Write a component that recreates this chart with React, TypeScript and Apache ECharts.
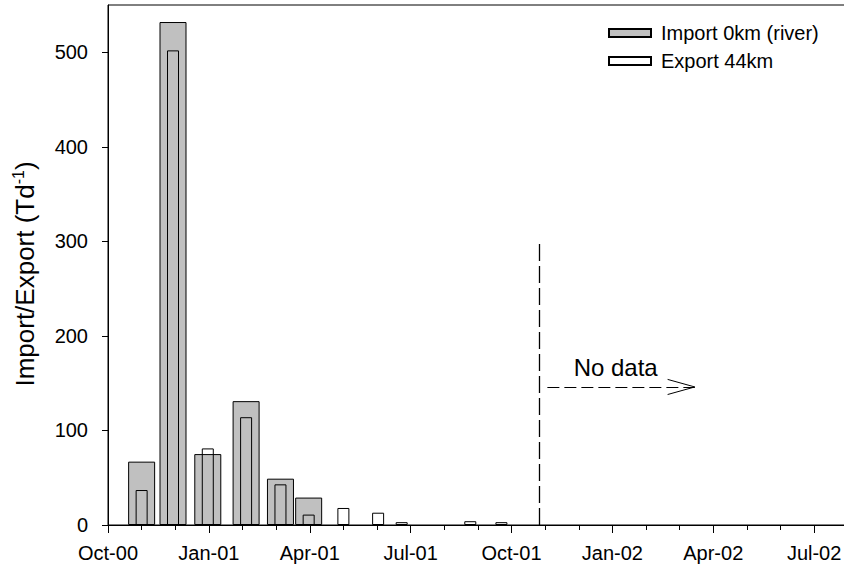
import React, { useEffect, useRef } from "react";
import * as echarts from "echarts";

// ---- data ----
const sampleDates = [
  "2000-11-01", "2000-11-29", "2000-12-31", "2001-02-04", "2001-03-05", "2001-03-31",
  "2001-05-01", "2001-06-02", "2001-06-23", "2001-08-25", "2001-09-22",
];
const importValues: (number | null)[] = [67, 532, 75, 131, 49, 29, null, null, null, null, null];
const exportValues = [37, 502, 81, 114, 43, 11, 18, 13, 3, 4, 3];
const xTickLabels = ["Oct-00", "Jan-01", "Apr-01", "Jul-01", "Oct-01", "Jan-02", "Apr-02", "Jul-02"];
const yTickValues = [0, 100, 200, 300, 400, 500];
const seriesNames = ["Import 0km (river)", "Export 44km"];

// annotation ("No data")
const noDataDate = "2001-10-27";
const noDataTop = 300;
const arrowStartDate = "2001-11-03";
const arrowEndDate = "2002-03-15";
const arrowHeadBackDate = "2002-02-19";
const arrowValue = 146;
const arrowHeadSpread = 8;
const noDataLabelDate = "2001-11-26";
const noDataLabelValue = 167;

const FONT = "'Liberation Sans', Arial, Helvetica, sans-serif";

// months since Oct 2000 (fractional)
function monthPos(d: string): number {
  const [y, m, dd] = d.split("-").map(Number);
  const idx = (y - 2000) * 12 + (m - 10);
  const dim = new Date(y, m, 0).getDate();
  return idx + (dd - 1) / dim;
}

export default function App() {
  const ref = useRef<HTMLDivElement>(null);
  useEffect(() => {
    if (!ref.current) return;
    const chart = echarts.init(ref.current, null, { renderer: "svg" });

    const importData = sampleDates
      .map((d, i) => (importValues[i] == null ? null : [monthPos(d), importValues[i]]))
      .filter((v) => v !== null);
    const exportData = sampleDates.map((d, i) => [monthPos(d), exportValues[i]]);

    const xv = monthPos(noDataDate);
    const a0 = monthPos(arrowStartDate);
    const a1 = monthPos(arrowEndDate);
    const ah = monthPos(arrowHeadBackDate);

    const xAxisBase = {
      type: "value",
      min: 0,
      max: 24,
      interval: 3,
      gridIndex: 0,
    };

    chart.setOption({
      animation: false,
      backgroundColor: "#fff",
      textStyle: { fontFamily: FONT },
      grid: {
        left: 108,
        top: 5,
        width: 807,
        height: 520,
        show: true,
        borderColor: "#000",
        borderWidth: 1,
        containLabel: false,
      },
      legend: {
        data: seriesNames,
        orient: "vertical",
        left: 603,
        top: 18,
        itemWidth: 42,
        itemHeight: 8,
        itemGap: 8,
        icon: "rect",
        selectedMode: false,
        textStyle: { fontSize: 20, color: "#000", fontFamily: FONT, lineHeight: 20, padding: [0, 0, 0, 5] },
      },
      xAxis: [
        {
          ...xAxisBase,
          axisLine: { show: true, lineStyle: { color: "#000", width: 1 } },
          axisTick: { show: true, length: 8, lineStyle: { color: "#000" } },
          minorTick: { show: true, splitNumber: 3, length: 5, lineStyle: { color: "#000" } },
          splitLine: { show: false },
          axisLabel: {
            fontSize: 20,
            color: "#000",
            fontFamily: FONT,
            margin: 18,
            formatter: (v: number) => xTickLabels[Math.round(v / 3)] ?? "",
          },
        },
        {
          ...xAxisBase,
          show: false,
        },
      ],
      yAxis: {
        type: "value",
        min: 0,
        max: 550,
        interval: 100,
        axisLine: { show: true, lineStyle: { color: "#000", width: 1 } },
        axisTick: { show: true, length: 6, lineStyle: { color: "#000" }, customValues: yTickValues },
        splitLine: { show: false },
        axisLabel: {
          fontSize: 20,
          color: "#000",
          fontFamily: FONT,
          margin: 20,
          customValues: yTickValues,
        },
      },
      graphic: [
        {
          type: "text",
          x: 25,
          y: 274,
          rotation: Math.PI / 2,
          style: {
            text: "Import/Export (Td{sup|-1})",
            fontSize: 26,
            fontFamily: FONT,
            fill: "#000",
            align: "center",
            verticalAlign: "middle",
            rich: {
              sup: { fontSize: 16, fontFamily: FONT, fill: "#000", padding: [0, 0, 13, 0] },
            },
          },
        },
      ],
      series: [
        {
          name: seriesNames[0],
          type: "bar",
          xAxisIndex: 0,
          barWidth: 27,
          data: importData,
          itemStyle: { color: "#c0c0c0", borderColor: "#000", borderWidth: 1 },
          z: 2,
        },
        {
          name: seriesNames[1],
          type: "bar",
          xAxisIndex: 1,
          barWidth: 12,
          data: exportData,
          itemStyle: { color: "rgba(255,255,255,0)", borderColor: "#000", borderWidth: 1 },
          z: 3,
          markLine: {
            silent: true,
            symbol: "none",
            label: { show: false },
            data: [
              [
                { coord: [xv, 0], lineStyle: { color: "#000", width: 1.3, type: [17, 5] } },
                { coord: [xv, noDataTop] },
              ],
              [
                { coord: [a0, arrowValue], lineStyle: { color: "#000", width: 1, type: [12, 5] } },
                { coord: [a1, arrowValue] },
              ],
              [
                { coord: [ah, arrowValue + arrowHeadSpread], lineStyle: { color: "#000", width: 1, type: "solid" } },
                { coord: [a1, arrowValue] },
              ],
              [
                { coord: [ah, arrowValue - arrowHeadSpread], lineStyle: { color: "#000", width: 1, type: "solid" } },
                { coord: [a1, arrowValue] },
              ],
            ],
          },
          markPoint: {
            silent: true,
            symbol: "rect",
            symbolSize: 1,
            itemStyle: { color: "rgba(0,0,0,0)" },
            data: [
              {
                coord: [monthPos(noDataLabelDate), noDataLabelValue],
                label: {
                  show: true,
                  position: "right",
                  distance: 0,
                  formatter: "No data",
                  fontSize: 24,
                  color: "#000",
                  fontFamily: FONT,
                },
              },
            ],
          },
        },
      ],
    });

    return () => chart.dispose();
  }, []);

  return (
    <div
      ref={ref}
      style={{ position: "fixed", left: 0, top: 0, width: 940, height: 567, background: "#fff" }}
    />
  );
}
